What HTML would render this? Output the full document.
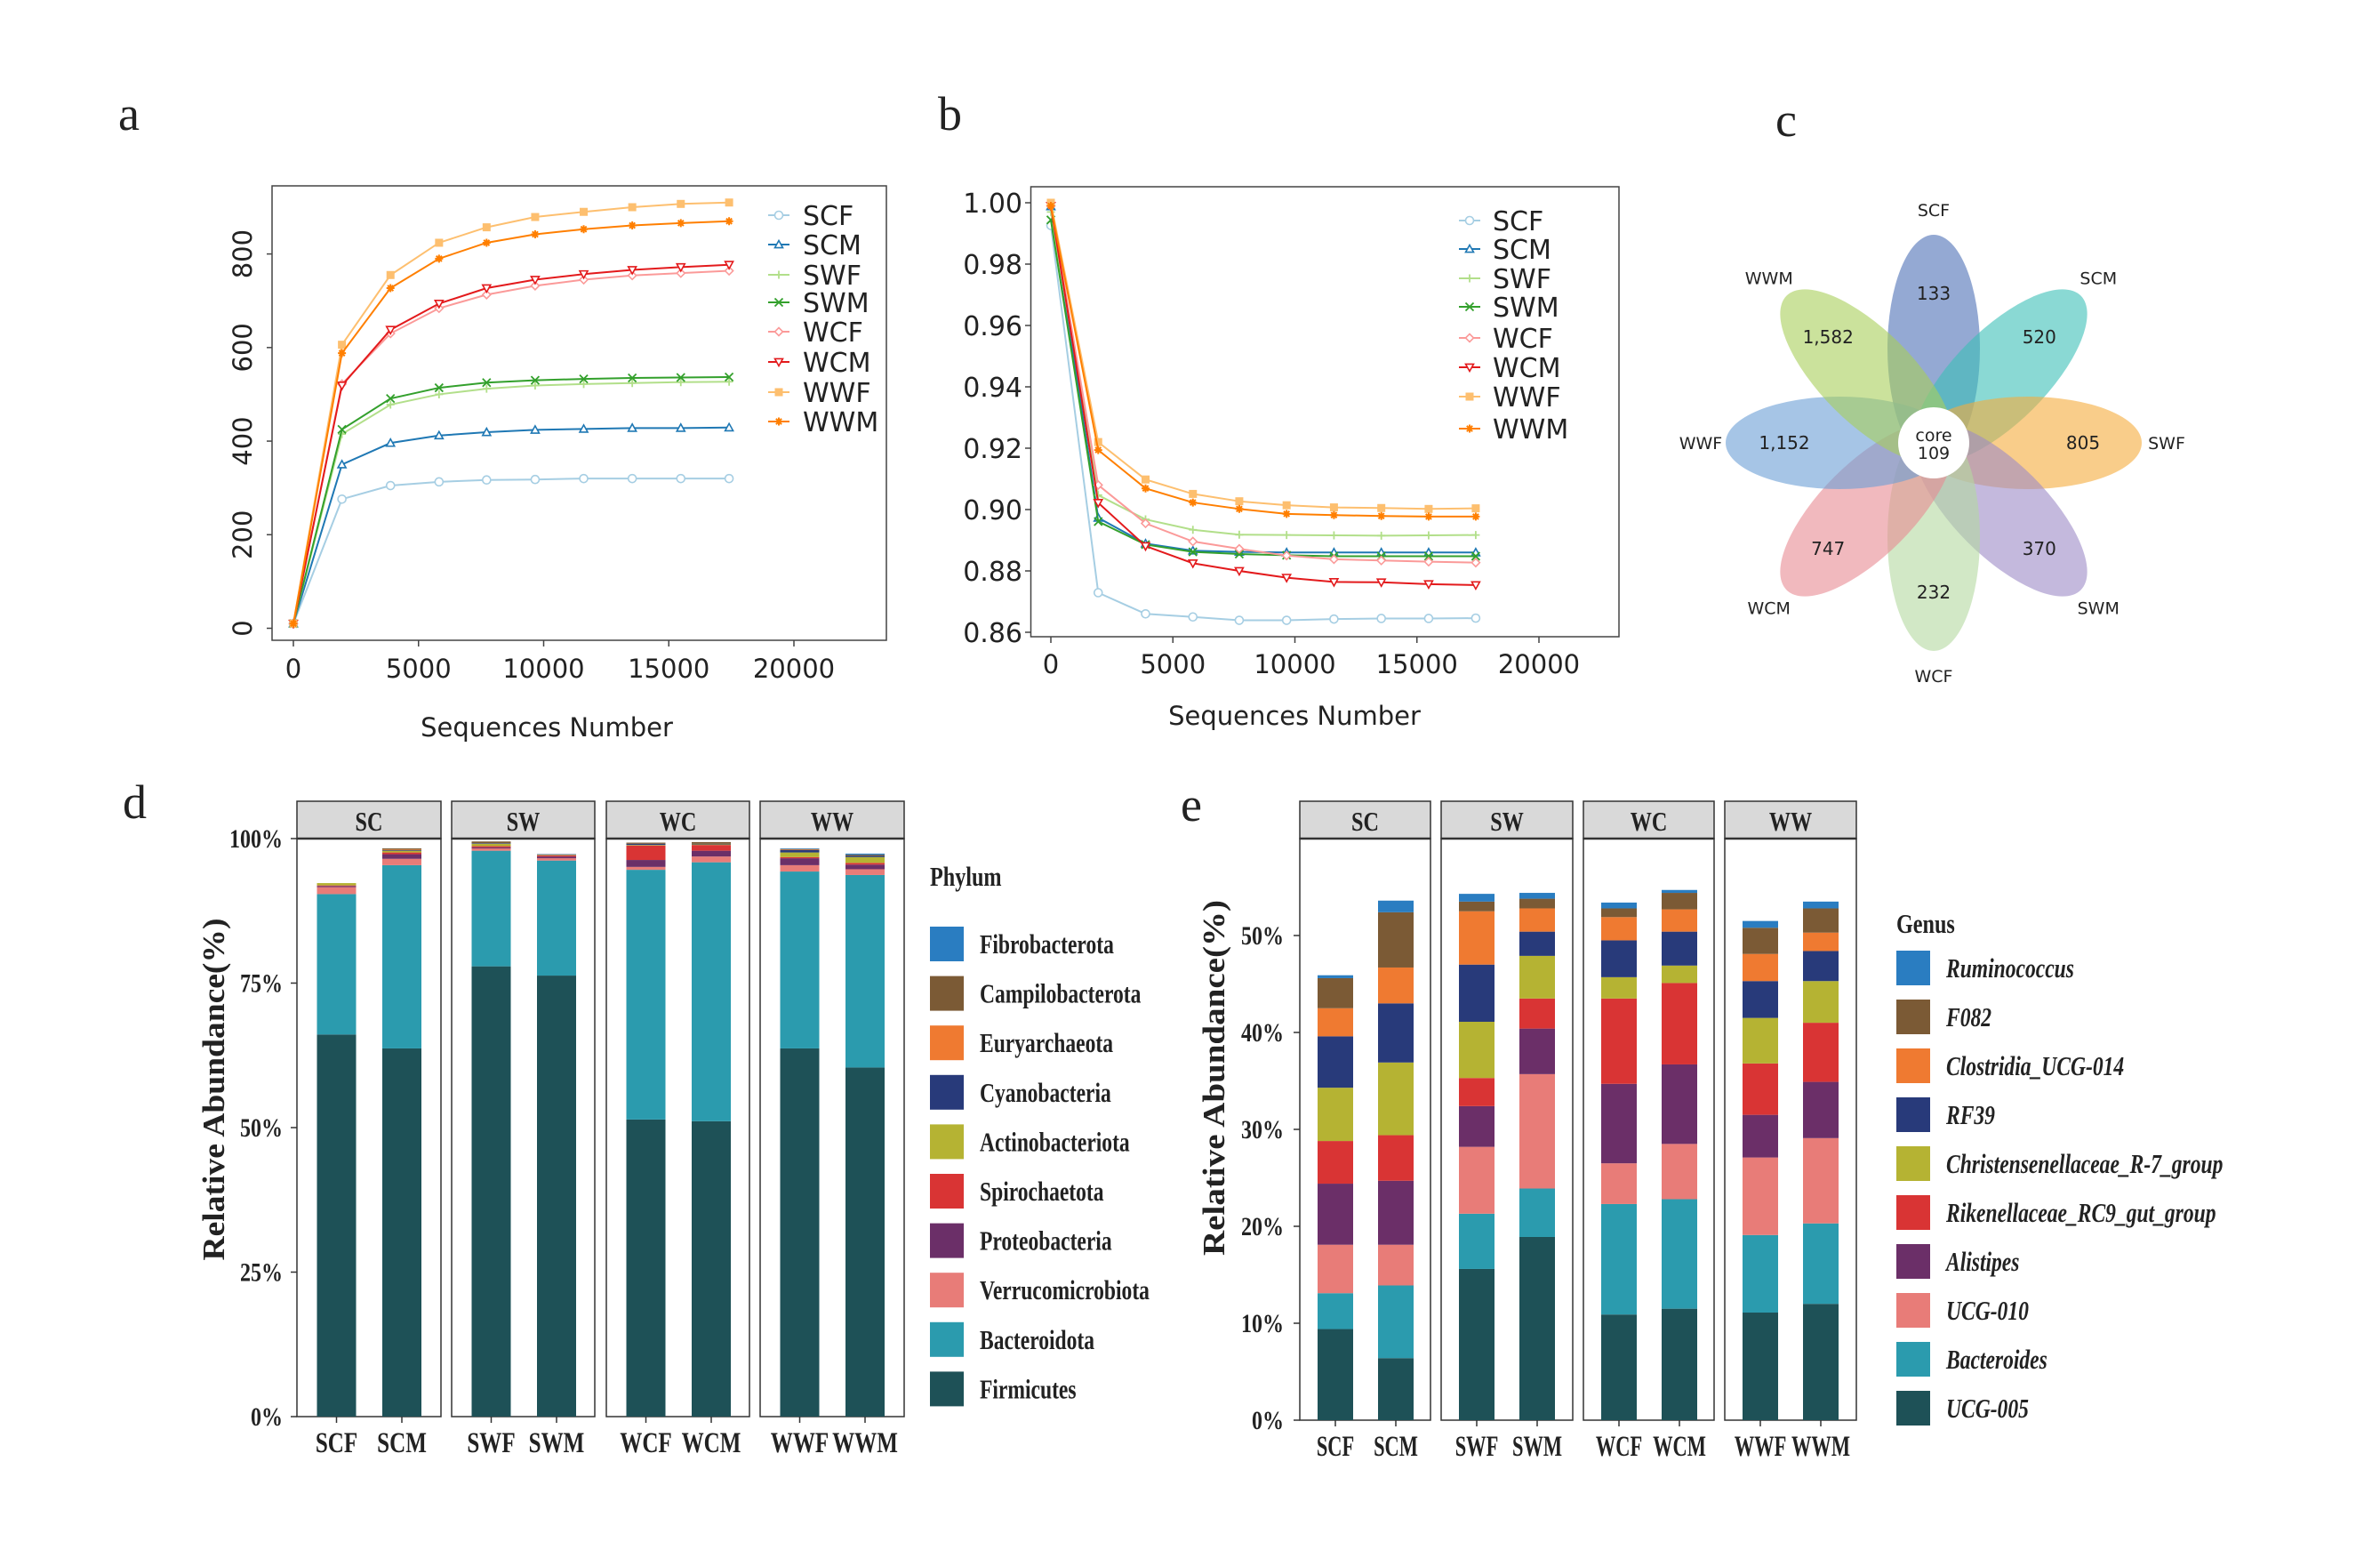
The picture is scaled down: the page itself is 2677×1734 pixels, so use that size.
<!DOCTYPE html>
<html><head><meta charset="utf-8"><style>
html,body{margin:0;padding:0;background:#fff}
svg{display:block}
</style></head><body>
<svg id="s" xmlns="http://www.w3.org/2000/svg" width="2677" height="1734" viewBox="0 0 2677 1734"></svg>
<script>
const S=document.getElementById('s');let h='';
const DJ='font-family="DejaVu Sans, Liberation Sans, sans-serif"';
const SR='font-family="Liberation Serif, serif" font-weight="bold"';
function T(x,y,s,size,anchor,fam,extra){return `<text x="${x}" y="${y}" font-size="${size}" text-anchor="${anchor||'start'}" ${fam||DJ} ${extra||''} fill="#222">${s}</text>`;}
function TC(x,y,s,size,anchor,sx,extra){return `<text transform="translate(${x},${y}) scale(${sx||0.8},1)" font-size="${size}" text-anchor="${anchor||'start'}" ${SR} ${extra||''} fill="#222">${s}</text>`;}
const cols=['#a6cee3','#1f78b4','#b2df8a','#33a02c','#fb9a99','#e31a1c','#fdbf6f','#ff7f00'];
const names=['SCF','SCM','SWF','SWM','WCF','WCM','WWF','WWM'];
const mk=['o','^','+','x','d','v','s','*'];
function marker(t,x,y,c){const r=4.5;
 if(t=='o')return `<circle cx="${x}" cy="${y}" r="${r}" fill="#fff" stroke="${c}" stroke-width="1.6"/>`;
 if(t=='^')return `<polygon points="${x},${y-r} ${x-r},${y+r*0.8} ${x+r},${y+r*0.8}" fill="#fff" stroke="${c}" stroke-width="1.6"/>`;
 if(t=='v')return `<polygon points="${x},${y+r} ${x-r},${y-r*0.8} ${x+r},${y-r*0.8}" fill="#fff" stroke="${c}" stroke-width="1.6"/>`;
 if(t=='d')return `<polygon points="${x},${y-r} ${x+r},${y} ${x},${y+r} ${x-r},${y}" fill="#fff" stroke="${c}" stroke-width="1.6"/>`;
 if(t=='+')return `<path d="M${x-r} ${y}H${x+r}M${x} ${y-r}V${y+r}" stroke="${c}" stroke-width="1.8"/>`;
 if(t=='x')return `<path d="M${x-r} ${y-r}L${x+r} ${y+r}M${x-r} ${y+r}L${x+r} ${y-r}" stroke="${c}" stroke-width="1.8"/>`;
 if(t=='s')return `<rect x="${x-r}" y="${y-r}" width="${2*r}" height="${2*r}" fill="${c}"/>`;
 return `<path d="M${x-r} ${y}H${x+r}M${x} ${y-r}V${y+r}M${x-r*0.7} ${y-r*0.7}L${x+r*0.7} ${y+r*0.7}M${x-r*0.7} ${y+r*0.7}L${x+r*0.7} ${y-r*0.7}" stroke="${c}" stroke-width="2"/>`;
}
const xs=[0,1940,3880,5820,7720,9660,11600,13540,15480,17410];
(function(){
 const X=v=>330+v*(893-330)/20000, Y=v=>706.5-v*(706.5-285.6)/800;
 const D=[[10,276,305,313,317,318,320,320,320,320],[10,350,396,412,419,424,426,428,428,429],[10,415,478,500,512,519,522,524,526,527],[10,425,491,514,525,530,533,535,536,537],[10,522,630,684,713,732,745,754,759,764],[10,519,638,694,727,745,757,766,772,777],[10,606,755,824,857,879,890,900,907,910],[10,588,727,790,824,842,853,861,866,870]];
 h+=`<rect x="306" y="209" width="691" height="511" fill="none" stroke="#444" stroke-width="1.5"/>`;
 [0,200,400,600,800].forEach(v=>{const y=Y(v);h+=`<line x1="300" x2="306" y1="${y}" y2="${y}" stroke="#444" stroke-width="1.5"/>`;h+=`<text transform="translate(283,${y}) rotate(-90)" font-size="29" text-anchor="middle" ${DJ} fill="#222">${v}</text>`;});
 [0,5000,10000,15000,20000].forEach(v=>{const x=X(v);h+=`<line x1="${x}" x2="${x}" y1="720" y2="727" stroke="#444" stroke-width="1.5"/>`;h+=T(x,762,v,29,'middle');});
 h+=T(615,828,'Sequences Number',29,'middle');
 h+=`<text x="133" y="146" font-size="54" font-family="Liberation Serif, serif" fill="#222">a</text>`;
 D.forEach((d,i)=>{h+=`<polyline fill="none" stroke="${cols[i]}" stroke-width="2" points="${d.map((v,j)=>X(xs[j])+','+Y(v)).join(' ')}"/>`;d.forEach((v,j)=>h+=marker(mk[i],X(xs[j]),Y(v),cols[i]));});
 const ly=[242,275,309,340,373,407,441,474];
 names.forEach((n,i)=>{h+=`<line x1="864" x2="888" y1="${ly[i]}" y2="${ly[i]}" stroke="${cols[i]}" stroke-width="2"/>`+marker(mk[i],876,ly[i],cols[i]);h+=T(903,ly[i]+11,n,30);});
})();
(function(){
 const X=v=>1182+v*(1731-1182)/20000, Y=v=>228+(1-v)*(711-228)/0.14;
 const D=[[.9926,.8729,.866,.865,.8639,.8639,.8643,.8645,.8645,.8646],[.9988,.8973,.8889,.8866,.8862,.886,.886,.886,.886,.886],[.997,.9047,.8968,.8934,.8918,.8917,.8916,.8915,.8916,.8917],[.9944,.8961,.8886,.8862,.8855,.8851,.8848,.8848,.8848,.8848],[.999,.908,.8955,.8896,.8872,.885,.8838,.8834,.883,.8827],[.999,.9022,.8881,.8825,.88,.8778,.8764,.8763,.8757,.8754],[1,.922,.9098,.9051,.9027,.9014,.9007,.9005,.9002,.9004],[.999,.9194,.9069,.9023,.9002,.8986,.8982,.8979,.8977,.8977]];
 h+=`<rect x="1159.5" y="210" width="661.5" height="506" fill="none" stroke="#444" stroke-width="1.5"/>`;
 [1,.98,.96,.94,.92,.90,.88,.86].forEach(v=>{const y=Y(v);h+=`<line x1="1153" x2="1159.5" y1="${y}" y2="${y}" stroke="#444" stroke-width="1.5"/>`;h+=T(1150,y+11,v.toFixed(2),30,'end');});
 [0,5000,10000,15000,20000].forEach(v=>{const x=X(v);h+=`<line x1="${x}" x2="${x}" y1="716" y2="723" stroke="#444" stroke-width="1.5"/>`;h+=T(x,757,v,29,'middle');});
 h+=T(1456,815,'Sequences Number',29,'middle');
 h+=`<text x="1055" y="146" font-size="54" font-family="Liberation Serif, serif" fill="#222">b</text>`;
 D.forEach((d,i)=>{h+=`<polyline fill="none" stroke="${cols[i]}" stroke-width="2" points="${d.map((v,j)=>X(xs[j])+','+Y(v)).join(' ')}"/>`;d.forEach((v,j)=>h+=marker(mk[i],X(xs[j]),Y(v),cols[i]));});
 const ly=[248,280,313,345,380,413,446,482];
 names.forEach((n,i)=>{h+=`<line x1="1641" x2="1665" y1="${ly[i]}" y2="${ly[i]}" stroke="${cols[i]}" stroke-width="2"/>`+marker(mk[i],1653,ly[i],cols[i]);h+=T(1679,ly[i]+11,n,30);});
})();
(function(){
 const cx=2175,cy=498;
 const pc=['#4c6fb5','#3cbfb8','#f5ab3c','#9c8bc6','#b4d9a0','#e88a92','#6a9fd6','#a9cf5a'];
 const nm=['SCF','SCM','SWF','SWM','WCF','WCM','WWF','WWM'];
 const num=['133','520','805','370','232','747','1,152','1,582'];
 for(let i=0;i<8;i++){const a=-90+45*i, r=a*Math.PI/180;
  const px=cx+106*Math.cos(r), py=cy+106*Math.sin(r);
  h+=`<ellipse cx="${px}" cy="${py}" rx="128" ry="52" transform="rotate(${a} ${px} ${py})" fill="${pc[i]}" fill-opacity="0.6"/>`;}
 for(let i=0;i<8;i++){const r=(-90+45*i)*Math.PI/180;
  h+=T(cx+168*Math.cos(r),cy+168*Math.sin(r)+7,num[i],20,'middle');
  h+=T(cx+262*Math.cos(r),cy+262*Math.sin(r)+7,nm[i],19,'middle');}
 h+=`<circle cx="${cx}" cy="${cy}" r="40" fill="#fff"/>`;
 h+=T(cx,cy-2,'core',19,'middle')+T(cx,cy+18,'109',19,'middle');
 h+=`<text x="1997" y="153" font-size="54" font-family="Liberation Serif, serif" fill="#222">c</text>`;
})();
function stacked(o){
 const {panels,strips,y0,y100,bars,cols,ticks,tickx,bw,off,leg,legx,legy,legstep,title,titley,ital,axx,axy,letter}=o;
 const Y=v=>y0-v*(y0-y100)/o.vmax;
 panels.forEach((p,k)=>{
  h+=`<rect x="${p[0]}" y="901" width="${p[1]-p[0]}" height="42" fill="#d9d9d9" stroke="#333" stroke-width="1.5"/>`;
  h+=TC((p[0]+p[1])/2,934,strips[k],31,'middle',0.78);
  h+=`<rect x="${p[0]}" y="943" width="${p[1]-p[0]}" height="${y0-943}" fill="#fff" stroke="#333" stroke-width="1.5"/>`;
  h+=`<line x1="${p[0]}" x2="${p[1]}" y1="943" y2="943" stroke="#333" stroke-width="2.5"/>`;
  for(let b=0;b<2;b++){const c=p[0]+off[b];const d=bars[k*2+b];let prev=0;
   d.forEach((v,j)=>{if(v>prev){h+=`<rect x="${c-bw/2}" y="${Y(v)}" width="${bw}" height="${Y(prev)-Y(v)}" fill="${cols[j]}"/>`;}prev=Math.max(prev,v);});
   h+=`<line x1="${c}" x2="${c}" y1="${y0}" y2="${y0+7}" stroke="#333" stroke-width="1.5"/>`;
   h+=TC(c,y0+40,names[k*2+b],33,'middle',o.lsx);}
 });
 ticks.forEach(t=>{const y=Y(t[0]);h+=`<line x1="${panels[0][0]-7}" x2="${panels[0][0]}" y1="${y}" y2="${y}" stroke="#333" stroke-width="1.5"/>`;h+=TC(tickx,y+10,t[1],30,'end',0.8);});
 h+=`<text transform="translate(${axx},${axy}) rotate(-90)" font-size="35" text-anchor="middle" ${SR} fill="#222" textLength="${o.axl}" lengthAdjust="spacingAndGlyphs">Relative Abundance(%)</text>`;
 h+=TC(legx,titley,title,31,'start',0.78);
 leg.forEach((n,i)=>{const y=legy+i*legstep;h+=`<rect x="${legx}" y="${y}" width="38" height="39" fill="${cols[cols.length-1-i]}"/>`;
  h+=TC(legx+56,y+30,n,31,'start',0.76,ital?'font-style="italic"':'');});
 h+=`<text x="${letter[0]}" y="${letter[1]}" font-size="54" font-family="Liberation Serif, serif" fill="#222">${letter[2]}</text>`;
}
const cd=['#1e5157','#2b9bae','#e87c78','#6b2f68','#d93434','#b5b333','#283a7a','#ef7a31','#7b5a35','#2a7dc1'];
stacked({panels:[[334,496],[508,669],[682,843],[855,1017]],strips:['SC','SW','WC','WW'],y0:1593,y100:943,vmax:100,lsx:0.76,
 bars:[[66.1,90.4,91.6,91.8,91.9,92.3,92.3,92.3,92.3,92.3],[63.7,95.4,96.5,97.3,97.6,97.9,98.0,98.1,98.3,98.3],[77.9,97.9,98.3,98.5,98.7,99.1,99.2,99.2,99.5,99.5],[76.3,96.2,96.6,96.9,97.1,97.2,97.3,97.3,97.3,97.3],[51.4,94.6,95.1,96.3,98.8,98.9,99.1,99.1,99.3,99.3],[51.1,95.9,96.9,97.9,98.9,99.0,99.1,99.1,99.4,99.4],[63.7,94.3,95.4,96.6,96.8,97.6,98.0,98.1,98.2,98.3],[60.4,93.7,94.7,95.5,95.8,96.8,97.0,97.0,97.2,97.4]],
 cols:cd,ticks:[[0,'0%'],[25,'25%'],[50,'50%'],[75,'75%'],[100,'100%']],tickx:318,bw:44,off:[44.5,118],
 leg:['Fibrobacterota','Campilobacterota','Euryarchaeota','Cyanobacteria','Actinobacteriota','Spirochaetota','Proteobacteria','Verrucomicrobiota','Bacteroidota','Firmicutes'],
 legx:1046,legy:1042,legstep:55.6,title:'Phylum',titley:996,axx:252,axy:1225,axl:385,letter:[138,920,'d']});
stacked({panels:[[1462,1609],[1621,1769],[1781,1928],[1940,2088]],strips:['SC','SW','WC','WW'],y0:1597,y100:1052,vmax:50,lsx:0.68,
 bars:[[9.4,13.1,18.1,24.4,28.8,34.3,39.6,42.5,45.6,45.9],[6.4,13.9,18.1,24.7,29.4,36.9,43.0,46.7,52.4,53.6],[15.6,21.3,28.2,32.4,35.3,41.1,47.0,52.5,53.5,54.3],[18.9,23.9,35.7,40.4,43.5,47.9,50.4,52.8,53.8,54.4],[10.9,22.3,26.5,34.7,43.5,45.7,49.5,51.9,52.8,53.4],[11.5,22.8,28.5,36.7,45.1,46.9,50.4,52.7,54.4,54.7],[11.1,19.1,27.1,31.5,36.8,41.5,45.3,48.1,50.8,51.5],[12.0,20.3,29.1,34.9,41.0,45.3,48.4,50.3,52.8,53.5]],
 cols:cd,ticks:[[0,'0%'],[10,'10%'],[20,'20%'],[30,'30%'],[40,'40%'],[50,'50%']],tickx:1444,bw:40,off:[40,108],
 leg:['Ruminococcus','F082','Clostridia_UCG-014','RF39','Christensenellaceae_R-7_group','Rikenellaceae_RC9_gut_group','Alistipes','UCG-010','Bacteroides','UCG-005'],
 legx:2133,legy:1069,legstep:55,title:'Genus',titley:1049,ital:true,axx:1377,axy:1212,axl:400,letter:[1328,923,'e']});
S.innerHTML=h;
</script>
</body></html>
